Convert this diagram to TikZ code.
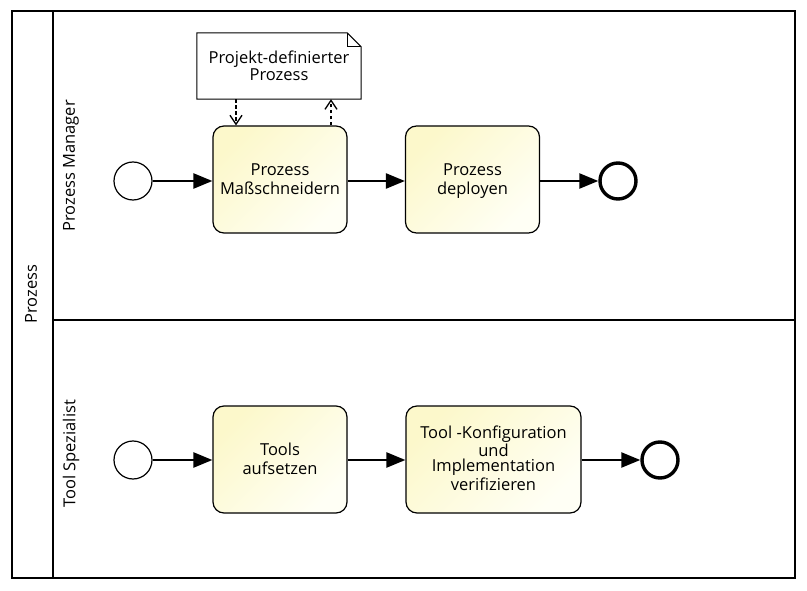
\documentclass[tikz,border=0pt]{standalone}
\usepackage{fontspec}
\setmainfont{Open Sans}
\usetikzlibrary{arrows.meta,calc}
\newcommand{\eqh}{\vphantom{ßÄgp}}
\tikzset{
  lanebox/.style={draw=black,line width=1.4pt},
  txt/.style={font=\fontsize{16.5}{15}\selectfont},
  task/.style={txt,draw=black,line width=1.2pt,rounded corners=11pt,
    top color=taskhi,bottom color=tasklo,shading angle=225,
    minimum width=134pt,minimum height=107pt,align=center,inner sep=2pt},
  startev/.style={circle,draw=black,line width=1.2pt,fill=white,minimum size=38pt,inner sep=0pt},
  endev/.style={circle,draw=black,line width=3.4pt,fill=white,minimum size=36pt,inner sep=0pt},
  flow/.style={line width=2.4pt,-{Triangle[length=19pt,width=15pt]}},
  assoc/.style={line width=2.8pt,dash pattern=on 3.5pt off 2.5pt,
    -{Straight Barb[length=9pt,width=12pt,line width=1.3pt]}},
  lanelabel/.style={txt,rotate=90},
  docbox/.style={txt,minimum width=164pt,minimum height=66pt,align=center,inner sep=2pt}
}
\definecolor{taskhi}{HTML}{FFFFF5}
\definecolor{tasklo}{HTML}{FCF8CB}
\begin{document}
\begin{tikzpicture}[x=1pt,y=-1pt]
\useasboundingbox (0,0) rectangle (807,591);
\fill[white] (0,0) rectangle (807,591);
% pool and lanes
\draw[lanebox] (12,11) rectangle (795,578);
\draw[lanebox] (53,11) -- (53,578);
\draw[lanebox] (53,320) -- (795,320);
\node[lanelabel] (pool) at (31,294) {Prozess};
\node[lanelabel] (lane1) at (71,166) {Prozess Manager};
\node[lanelabel] (lane2) at (71,454) {Tool Spezialist};
% lane 1
\node[startev] (s1) at (133,181) {};
\node[task] (t1) at (280,179.5) {\eqh Prozess\\Maßschneidern\eqh};
\node[task] (t2) at (472.5,179.5) {\eqh Prozess\\deployen\eqh};
\node[endev] (e1) at (618,181) {};
\draw[flow] (s1) -- (t1.west |- s1);
\draw[flow] (t1.east |- s1) -- (t2.west |- s1);
\draw[flow] (t2.east |- s1) -- (e1);
% data object
\node[docbox] (doc) at (279,66) {Projekt-definierter\\Prozess};
\draw[line width=1pt,fill=white] (doc.north west) -- ([xshift=-14pt]doc.north east)
  -- ([yshift=-14pt]doc.north east) -- (doc.south east) -- (doc.south west) -- cycle;
\draw[line width=1pt] ([xshift=-14pt]doc.north east) -- ([xshift=-14pt,yshift=-14pt]doc.north east)
  -- ([yshift=-14pt]doc.north east);
\node[docbox] at (doc) {Projekt-definierter\\Prozess};
\coordinate (a1s) at ([xshift=-43pt]doc.south);
\coordinate (a2e) at ([xshift=52pt]doc.south);
\draw[assoc] (a1s) -- (a1s |- t1.north);
\draw[assoc] (a2e |- t1.north) -- (a2e);
% lane 2
\node[startev] (s2) at (133,460) {};
\node[task] (t3) at (280,459.5) {\eqh Tools\\aufsetzen\eqh};
\node[task,minimum width=175pt] (t4) at (493.5,459.5) {\eqh Tool -Konfiguration\\und\\Implementation\\verifizieren\eqh};
\node[endev] (e2) at (660,460) {};
\draw[flow] (s2) -- (t3.west |- s2);
\draw[flow] (t3.east |- s2) -- (t4.west |- s2);
\draw[flow] (t4.east |- s2) -- (e2);
\end{tikzpicture}
\end{document}
